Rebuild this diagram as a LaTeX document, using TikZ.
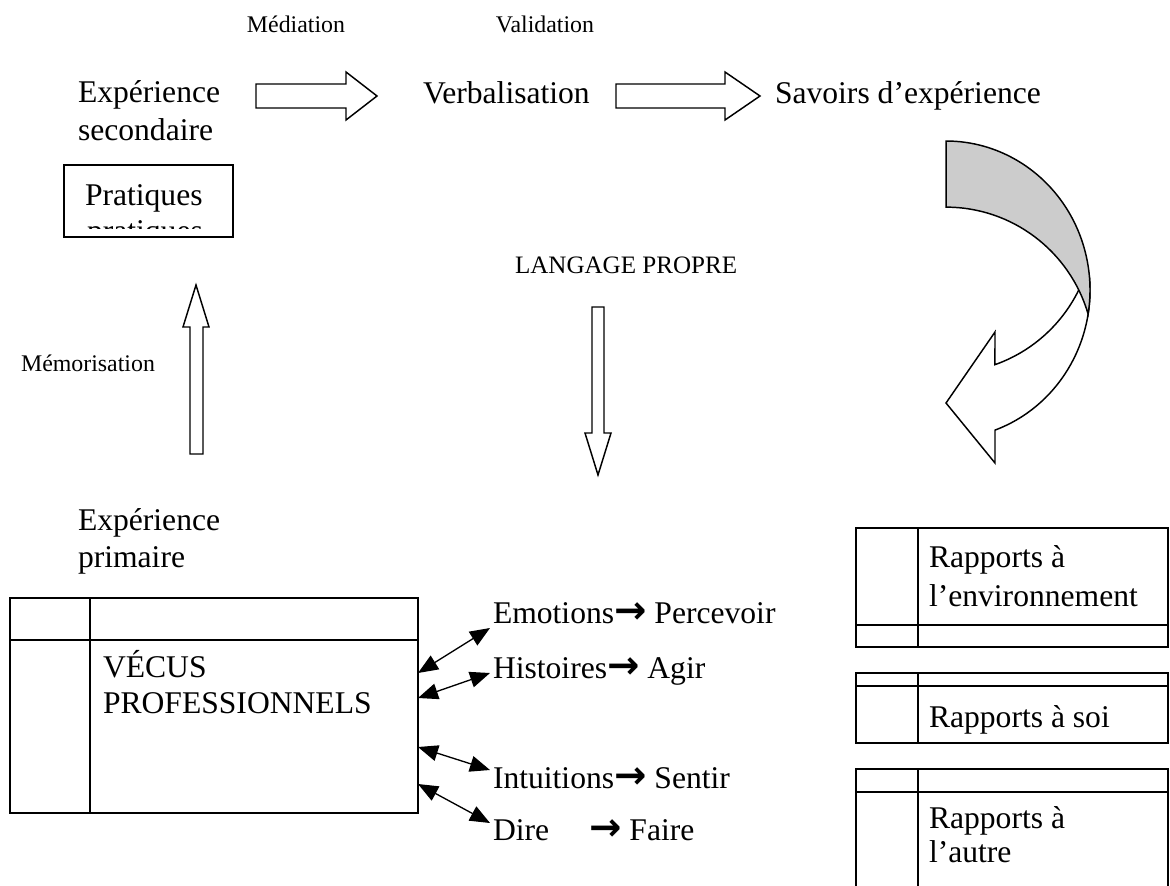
\documentclass[tikz,border=0pt]{standalone}
\usepackage{fontspec}
\setmainfont{Liberation Serif}
\newfontfamily\arrowfont{DejaVu Sans}
\usetikzlibrary{arrows.meta}
\newcommand\bigtxt{\fontsize{23.7}{27}\selectfont}
\newcommand\smalltxt{\fontsize{17.9}{21}\selectfont}
\newcommand\myarrow{{\arrowfont\bfseries\fontsize{29}{27}\selectfont →}}
\begin{document}
\begin{tikzpicture}[x=0.75pt,y=-0.75pt,
  every node/.style={inner sep=0pt,outer sep=0pt},
  lbl/.style={anchor=base west,font=\bigtxt},
  slbl/.style={anchor=base,font=\smalltxt},
  blockarrow/.style={draw,fill=white,line width=1.1pt,line join=miter},
  frame/.style={draw,line width=1.1pt},
  dbl/.style={{Triangle[length=15pt,width=12pt]}-{Triangle[length=15pt,width=12pt]},line width=1pt}]
\useasboundingbox (0,0) rectangle (1170,885);
\clip (0,0) rectangle (1170,885);

% small labels
\node[slbl] (med) at (296,32) {Médiation};
\node[slbl] (val) at (545,32) {Validation};
\node[slbl] (mem) at (88,371) {Mémorisation};

% top row
\node[lbl] (exs1) at (78,102) {Expérience};
\node[lbl] (exs2) at (78,140) {secondaire};
\node[lbl] (verb) at (423,103) {Verbalisation};
\node[lbl] (sav) at (775,103) {Savoirs d’expérience};

% block arrows
\draw[blockarrow] (256,84) -- (346,84) -- (346,72) -- (377,96) -- (346,120) -- (346,108) -- (256,108) -- cycle;
\draw[blockarrow] (616,84) -- (725,84) -- (725,72) -- (760,96) -- (725,120) -- (725,108) -- (616,108) -- cycle;
\draw[blockarrow] (190,454) -- (190,327) -- (183,327) -- (196,285) -- (209,327) -- (203,327) -- (203,454) -- cycle;
\draw[blockarrow] (592,307) -- (604,307) -- (604,433) -- (611,433) -- (598,475) -- (585,433) -- (592,433) -- cycle;

% Pratiques box
\begin{scope}
  \clip (64,165) rectangle (233,228);
  \node[lbl] (prat2) at (87,241) {pratiques};
\end{scope}
\node[lbl] (prat1) at (85,205) {Pratiques};
\draw[frame] (64,165) rectangle (233,237);

% LANGAGE PROPRE
\node[anchor=base west,font=\fontsize{18.8}{21}\selectfont] (lang) at (515,273) {LANGAGE PROPRE};

% curved arrow: front (white) part
\draw[blockarrow] (995,430.1)
  arc[start angle=70.1,end angle=-5,x radius=144,y radius=149]
  -- (1085.1,275.0)
  arc[start angle=20,end angle=70.7,x radius=148,y radius=149]
  -- (995,332) -- (946,403) -- (995,463) -- cycle;
% back (grey) part
\draw[line width=1.1pt,fill=black!20] (946,141)
  arc[start angle=-90,end angle=9.3,x radius=144,y radius=149]
  arc[start angle=-16.4,end angle=-90,x radius=148,y radius=149]
  -- cycle;

% bottom-left table
\node[lbl] (exp1) at (78,530) {Expérience};
\node[lbl] (exp2) at (78,567) {primaire};
\draw[frame] (10,598) rectangle (418,813);
\draw[frame] (90,598) -- (90,813) (10,640) -- (418,640);
\node[lbl] (vec1) at (103,677) {VÉCUS};
\node[lbl] (vec2) at (103,713) {PROFESSIONNELS};

% right labels
\node[lbl] (emo) at (493,623) {Emotions\myarrow\ Percevoir};
\node[lbl] (his) at (493,678) {Histoires\myarrow\ Agir};
\node[lbl] (int) at (493,788) {Intuitions\myarrow\ Sentir};
\node[lbl] (dir) at (493,840) {Dire\hspace{30pt}\myarrow\ Faire};

\coordinate (t1) at (418,673); \coordinate (e1) at (490,628);
\coordinate (t2) at (418,698); \coordinate (e2) at (490,673);
\coordinate (t3) at (418,747); \coordinate (e3) at (490,770);
\coordinate (t4) at (418,784); \coordinate (e4) at (490,823);
\draw[dbl] (t1) -- (e1);
\draw[dbl] (t2) -- (e2);
\draw[dbl] (t3) -- (e3);
\draw[dbl] (t4) -- (e4);

% right boxes
\draw[frame] (856,528) rectangle (1168,647);
\draw[frame] (918,528) -- (918,647) (856,625) -- (1168,625);
\node[lbl] (env1) at (929,567) {Rapports à};
\node[lbl] (env2) at (929,606) {l’environnement};

\draw[frame] (856,673) rectangle (1168,743);
\draw[frame] (918,673) -- (918,743) (856,686) -- (1168,686);
\node[lbl] (soi) at (929,727) {Rapports à soi};

\draw[frame] (856,900) -- (856,769) -- (1168,769) -- (1168,900);
\draw[frame] (918,769) -- (918,900) (856,792) -- (1168,792);
\node[lbl] (aut1) at (929,828) {Rapports à};
\node[lbl] (aut2) at (929,862) {l’autre};
\end{tikzpicture}
\end{document}
